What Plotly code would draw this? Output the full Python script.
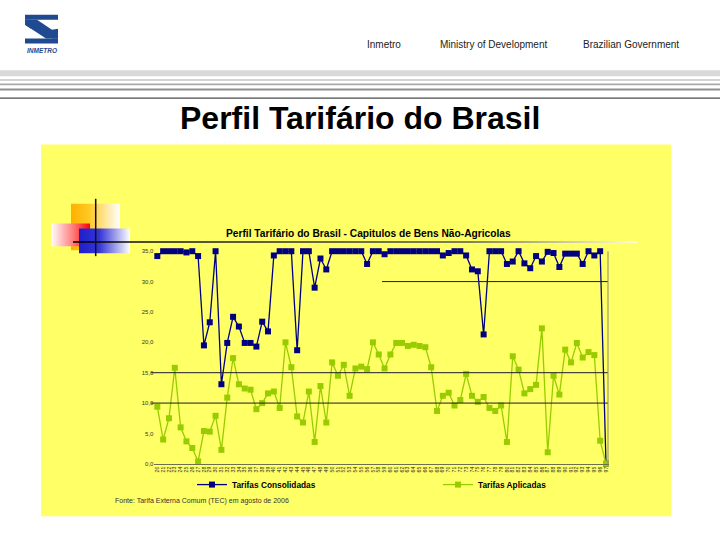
import plotly.graph_objects as go

# ---------------- data ----------------
capitulos = ["20", "21", "22", "23", "24", "25", "26", "27", "28", "29",
             "30", "31", "32", "33", "34", "35", "36", "37", "38", "39",
             "40", "41", "42", "43", "44", "45", "46", "47", "48", "49",
             "50", "51", "52", "53", "54", "55", "56", "57", "58", "59",
             "60", "61", "62", "63", "64", "65", "66", "67", "68", "69",
             "70", "71", "72", "73", "74", "75", "76", "77", "78", "79",
             "80", "81", "82", "83", "84", "85", "86", "87", "88", "89",
             "90", "91", "92", "93", "94", "95", "96", "97"]

consolidadas = [34.2, 35.0, 35.0, 35.0, 35.0, 34.8, 35.0, 34.2, 19.5, 23.3,
                35.0, 13.1, 19.9, 24.2, 22.6, 19.9, 19.9, 19.3, 23.4, 21.8,
                34.3, 35.0, 35.0, 35.0, 18.7, 35.0, 35.0, 29.0, 33.8, 32.0,
                35.0, 35.0, 35.0, 35.0, 35.0, 35.0, 32.9, 35.0, 35.0, 34.5,
                35.0, 35.0, 35.0, 35.0, 35.0, 35.0, 35.0, 35.0, 35.0, 34.3,
                34.7, 35.0, 35.0, 34.3, 32.0, 31.7, 21.3, 35.0, 35.0, 35.0,
                32.9, 33.3, 35.0, 33.0, 32.2, 34.2, 33.3, 34.9, 34.7, 32.4,
                34.6, 34.6, 34.6, 32.9, 35.0, 34.3, 35.0, 0.0]

aplicadas = [9.4, 4.0, 7.5, 15.8, 6.0, 3.7, 2.6, 0.4, 5.4, 5.3,
             7.9, 2.3, 10.9, 17.4, 13.1, 12.4, 12.2, 9.0, 10.0, 11.6,
             11.9, 9.2, 20.0, 15.9, 7.8, 6.8, 11.9, 3.6, 12.8, 6.8,
             16.7, 14.5, 16.3, 11.2, 15.7, 16.0, 15.6, 20.0, 18.0, 15.7,
             18.0, 19.9, 19.9, 19.4, 19.6, 19.4, 19.2, 15.9, 8.7, 11.2,
             11.7, 9.6, 10.5, 14.8, 11.2, 10.2, 11.0, 9.2, 8.7, 9.6,
             3.6, 17.7, 15.5, 11.6, 12.3, 13.0, 22.3, 1.9, 14.5, 11.4,
             18.8, 16.7, 19.9, 17.5, 18.4, 17.9, 3.8, 0.0]

y_ticks = [0, 5, 10, 15, 20, 25, 30, 35]
y_tick_labels = ["0,0", "5,0", "10,0", "15,0", "20,0", "25,0", "30,0", "35,0"]

W, H = 720, 540
FONT = "Liberation Sans, Arial, sans-serif"


def px(x):
    return x / W


def py(y):
    return 1 - y / H


fig = go.Figure()

# ---------------- data traces ----------------
fig.add_trace(go.Scatter(
    x=capitulos, y=consolidadas, name="Tarifas Consolidadas",
    mode="lines+markers", cliponaxis=False,
    line=dict(color="#000080", width=1.3),
    marker=dict(symbol="square", size=6, color="#000080"),
    xaxis="x", yaxis="y"))
fig.add_trace(go.Scatter(
    x=capitulos, y=aplicadas, name="Tarifas Aplicadas",
    mode="lines+markers", cliponaxis=False,
    line=dict(color="#99CC00", width=1.3),
    marker=dict(symbol="square", size=6, color="#99CC00"),
    xaxis="x", yaxis="y"))


# ---------------- decorations (pixel axes) ----------------
def grad_rect(x0, y0, x1, y1, scale, gtype="horizontal"):
    fig.add_trace(go.Scatter(
        x=[x0, x1, x1, x0, x0], y=[y0, y0, y1, y1, y0],
        mode="lines", fill="toself", line=dict(width=0),
        fillgradient=dict(type=gtype, colorscale=scale),
        hoverinfo="skip", showlegend=False, xaxis="x2", yaxis="y2"))


grad_rect(71, 203, 120, 250, [[0, "#FFB000"], [0.35, "#FFC820"], [1, "#FFFFFF"]])
grad_rect(51, 223, 90, 246, [[0, "#FFFFFF"], [0.55, "#FF8080"], [1, "#FF0000"]])
grad_rect(79, 228, 130, 253, [[0, "#1E1ECC"], [0.4, "#3535D5"], [1, "#FFFFFF"]])
grad_rect(73, 241, 637, 242.5, [[0, "#000000"], [0.7, "#555555"], [1, "#FFFFFF"]])

shapes = []
# yellow panel
shapes.append(dict(type="rect", xref="paper", yref="paper", layer="below",
                   x0=px(41), x1=px(671), y0=py(519), y1=py(143),
                   fillcolor="#FFFF66", line=dict(width=0)))
# header stripes
for (y0, y1, c) in [(68, 74, "#D9D9D9"), (77, 78.6, "#C4C4C4"),
                    (81.5, 83.3, "#A8A8A8"), (86.5, 88.5, "#8E8E8E"),
                    (95.5, 96.7, "#4A4A4A")]:
    shapes.append(dict(type="rect", xref="paper", yref="paper", layer="below",
                       x0=0, x1=1, y0=py(y1), y1=py(y0),
                       fillcolor=c, line=dict(width=0)))


def path(points):
    return "M" + " L".join(f"{px(a):.5f},{py(b):.5f}" for a, b in points) + " Z"


logo_c = "#1F4A8F"
for pts in [
    [(25, 12), (58, 12), (58, 17), (25, 17)],
    [(25, 36), (58, 36), (58, 41), (25, 41)],
    [(25, 17), (37, 17), (58, 31), (58, 36), (46, 36), (25, 22)],
    [(25, 17), (31, 17), (31, 26), (25, 22)],
    [(52, 36), (58, 36), (58, 26), (52, 27)],
]:
    shapes.append(dict(type="path", xref="paper", yref="paper",
                       path=path(pts), fillcolor=logo_c, line=dict(width=0)))
# vertical black decoration line
shapes.append(dict(type="line", xref="paper", yref="paper",
                   x0=px(95.7), x1=px(95.7), y0=py(256), y1=py(198),
                   line=dict(color="#111111", width=1.5)))
# chart gridlines / frame
X0, X1 = 154.4, 608.9
for v in [10, 15]:
    shapes.append(dict(type="line", xref="paper", yref="y",
                       x0=px(151), x1=px(608), y0=v, y1=v,
                       line=dict(color="#1A1A33", width=1)))
shapes.append(dict(type="line", xref="paper", yref="y",
                   x0=px(382), x1=px(608), y0=30, y1=30,
                   line=dict(color="#1A1A33", width=1)))
shapes.append(dict(type="line", xref="paper", yref="y",
                   x0=px(608), x1=px(608), y0=0, y1=35,
                   line=dict(color="#8A8A6A", width=1)))


def ann(text, x, y, size, color="#222222", xanchor="center", **kw):
    return dict(text=text, x=px(x), y=py(y), xref="paper", yref="paper",
                xanchor=xanchor, yanchor="middle", showarrow=False,
                font=dict(family=FONT, size=size, color=color), **kw)


annotations = [
    ann("Inmetro", 384, 42, 10),
    ann("Ministry of Development", 493, 42, 10),
    ann("Brazilian Government", 631, 42, 10),
    ann("<b><i>INMETRO</i></b>", 41.5, 48, 6.5, color=logo_c),
    ann("<b>Perfil Tarifário do Brasil</b>", 359.5, 116, 32, color="#000000"),
    ann("<b>Perfil Tarifário do Brasil - Capitulos de Bens Não-Agricolas</b>",
        369, 233, 10.2, color="#000000"),
    ann("Fonte: Tarifa Externa Comum (TEC) em agosto de 2006", 113, 504, 7,
        color="#333333", xanchor="left"),
]

fig.update_layout(
    width=W, height=H,
    margin=dict(l=0, r=0, t=0, b=0),
    paper_bgcolor="#FFFFFF", plot_bgcolor="rgba(0,0,0,0)",
    showlegend=True,
    legend=dict(orientation="h", x=px(192), y=py(487), xanchor="left", yanchor="middle",
                font=dict(family=FONT, size=8.3, color="#000000", weight="bold"),
                bgcolor="rgba(0,0,0,0)", itemwidth=30,
                entrywidth=201, entrywidthmode="pixels"),
    xaxis=dict(domain=[px(X0), px(X1)], type="category", range=[-0.5, 77.5],
               tickmode="linear", dtick=1, tickangle=-90,
               tickfont=dict(family=FONT, size=5, color="#222222"),
               showgrid=False, zeroline=False, showline=True,
               linecolor="#6E6E50", linewidth=1, ticks="", fixedrange=True),
    yaxis=dict(domain=[py(466), py(251)], range=[0, 35],
               tickmode="array", tickvals=y_ticks, ticktext=y_tick_labels,
               tickfont=dict(family=FONT, size=6, color="#333333"),
               showgrid=False, zeroline=False, showline=False, ticks="",
               fixedrange=True),
    xaxis2=dict(domain=[0, 1], range=[0, W], visible=False, fixedrange=True),
    yaxis2=dict(domain=[0, 1], range=[H, 0], visible=False, fixedrange=True),
    shapes=shapes, annotations=annotations,
)

fig.write_html("out.html", config={"displayModeBar": False},
               post_script="document.body.style.margin='0';document.body.style.overflow='hidden';")
